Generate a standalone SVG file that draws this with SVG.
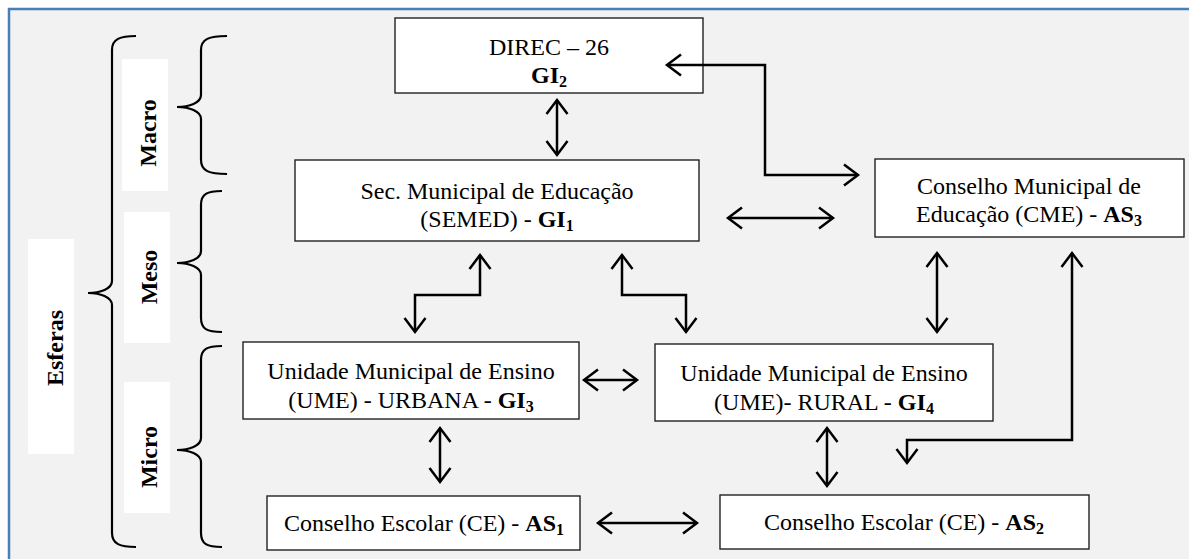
<svg xmlns="http://www.w3.org/2000/svg" width="1189" height="559" viewBox="0 0 1189 559">
<style>
.box{fill:#fff;stroke:#222;stroke-width:1.4}
.t{font-family:"Liberation Serif","Times New Roman",serif;font-size:24px;fill:#000;text-anchor:middle}
.b{font-weight:bold}
.sub{font-size:16px;font-weight:bold}
.lbl{fill:#fff}
.br{fill:none;stroke:#000;stroke-width:2.2}
.c{fill:none;stroke:#000;stroke-width:2.5;marker-start:url(#ah);marker-end:url(#ah)}
</style>
<defs>
<marker id="ah" markerUnits="userSpaceOnUse" markerWidth="30" markerHeight="30" viewBox="-20 -15 30 30" refX="0" refY="0" orient="auto-start-reverse" overflow="visible">
<path d="M-14,-10.5 L0,0 L-14,10.5" fill="none" stroke="#000" stroke-width="2.5"/>
</marker>
</defs>
<rect x="0" y="0" width="1189" height="559" fill="#fff"/>
<rect x="9" y="9" width="1200" height="600" fill="#f2f2f2" stroke="#4a7ebb" stroke-width="2.5"/>

<g id="braces">
<path class="br" d="M136,36 C120,36 112,39 112,50 L112,281 C112,289 100,293 88,293 C100,293 112,297 112,305 L112,533 C112,544 120,547 136,547"/>
<path class="br" d="M227,36 C209,36 201,39 201,50 L201,95 C201,103 189,107 177,107 C189,107 201,111 201,119 L201,160 C201,171 209,174 227,174"/>
<path class="br" d="M222,191 C207,191 201,194 201,205 L201,251 C201,259 189,263 177,263 C189,263 201,267 201,275 L201,318 C201,329 207,332 222,332"/>
<path class="br" d="M222,346 C207,346 201,349 201,360 L201,438 C201,446 189,450 177,450 C189,450 201,454 201,462 L201,533 C201,544 207,547 222,547"/>
</g>

<g id="label-esferas">
<rect class="lbl" x="28" y="239" width="46" height="215"/>
<text class="t b" transform="translate(63,348) rotate(-90)">Esferas</text>
</g>
<g id="label-macro">
<rect class="lbl" x="122" y="59" width="46" height="132"/>
<text class="t b" transform="translate(156,133) rotate(-90)">Macro</text>
</g>
<g id="label-meso">
<rect class="lbl" x="124" y="212" width="46" height="131"/>
<text class="t b" transform="translate(157,277) rotate(-90)">Meso</text>
</g>
<g id="label-micro">
<rect class="lbl" x="124" y="382" width="46" height="131"/>
<text class="t b" transform="translate(157,457) rotate(-90)">Micro</text>
</g>

<g id="node-direc">
<rect class="box" x="395" y="18" width="308" height="75"/>
<text class="t" x="549" y="55">DIREC – 26</text>
<text class="t b" x="549" y="83">GI<tspan class="sub" dy="4">2</tspan></text>
</g>
<g id="node-semed">
<rect class="box" x="295" y="160" width="404" height="81"/>
<text class="t" x="497" y="199">Sec. Municipal de Educação</text>
<text class="t" x="497" y="227">(SEMED) - <tspan class="b">GI</tspan><tspan class="sub" dy="4">1</tspan></text>
</g>
<g id="node-cme">
<rect class="box" x="875" y="159" width="309" height="78"/>
<text class="t" x="1029" y="194">Conselho Municipal de</text>
<text class="t" x="1029" y="222">Educação (CME) - <tspan class="b">AS</tspan><tspan class="sub" dy="4">3</tspan></text>
</g>
<g id="node-urbana">
<rect class="box" x="243" y="342" width="336" height="77"/>
<text class="t" x="411" y="379">Unidade Municipal de Ensino</text>
<text class="t" x="411" y="408">(UME) - URBANA - <tspan class="b">GI</tspan><tspan class="sub" dy="4">3</tspan></text>
</g>
<g id="node-rural">
<rect class="box" x="655" y="344" width="338" height="77"/>
<text class="t" x="824" y="381">Unidade Municipal de Ensino</text>
<text class="t" x="824" y="410">(UME)- RURAL - <tspan class="b">GI</tspan><tspan class="sub" dy="4">4</tspan></text>
</g>
<g id="node-ce1">
<rect class="box" x="267" y="496" width="313" height="54"/>
<text class="t" x="424" y="531">Conselho Escolar (CE) - <tspan class="b">AS</tspan><tspan class="sub" dy="4">1</tspan></text>
</g>
<g id="node-ce2">
<rect class="box" x="720" y="495" width="369" height="54"/>
<text class="t" x="904" y="530">Conselho Escolar (CE) - <tspan class="b">AS</tspan><tspan class="sub" dy="4">2</tspan></text>
</g>

<g id="connectors">
<path class="c" d="M557,100 L557,155"/>
<path class="c" d="M667,65 L765,65 L765,175 L858,175"/>
<path class="c" d="M728,218 L833,218"/>
<path class="c" d="M480,255 L480,295 L415,295 L415,332"/>
<path class="c" d="M622,255 L622,295 L686,295 L686,332"/>
<path class="c" d="M937,253 L937,332"/>
<path class="c" d="M1072,253 L1072,440 L907,440 L907,463"/>
<path class="c" d="M584,380 L637,380"/>
<path class="c" d="M440,428 L440,482"/>
<path class="c" d="M827,428 L827,486"/>
<path class="c" d="M598,523 L697,523"/>
</g>
</svg>
